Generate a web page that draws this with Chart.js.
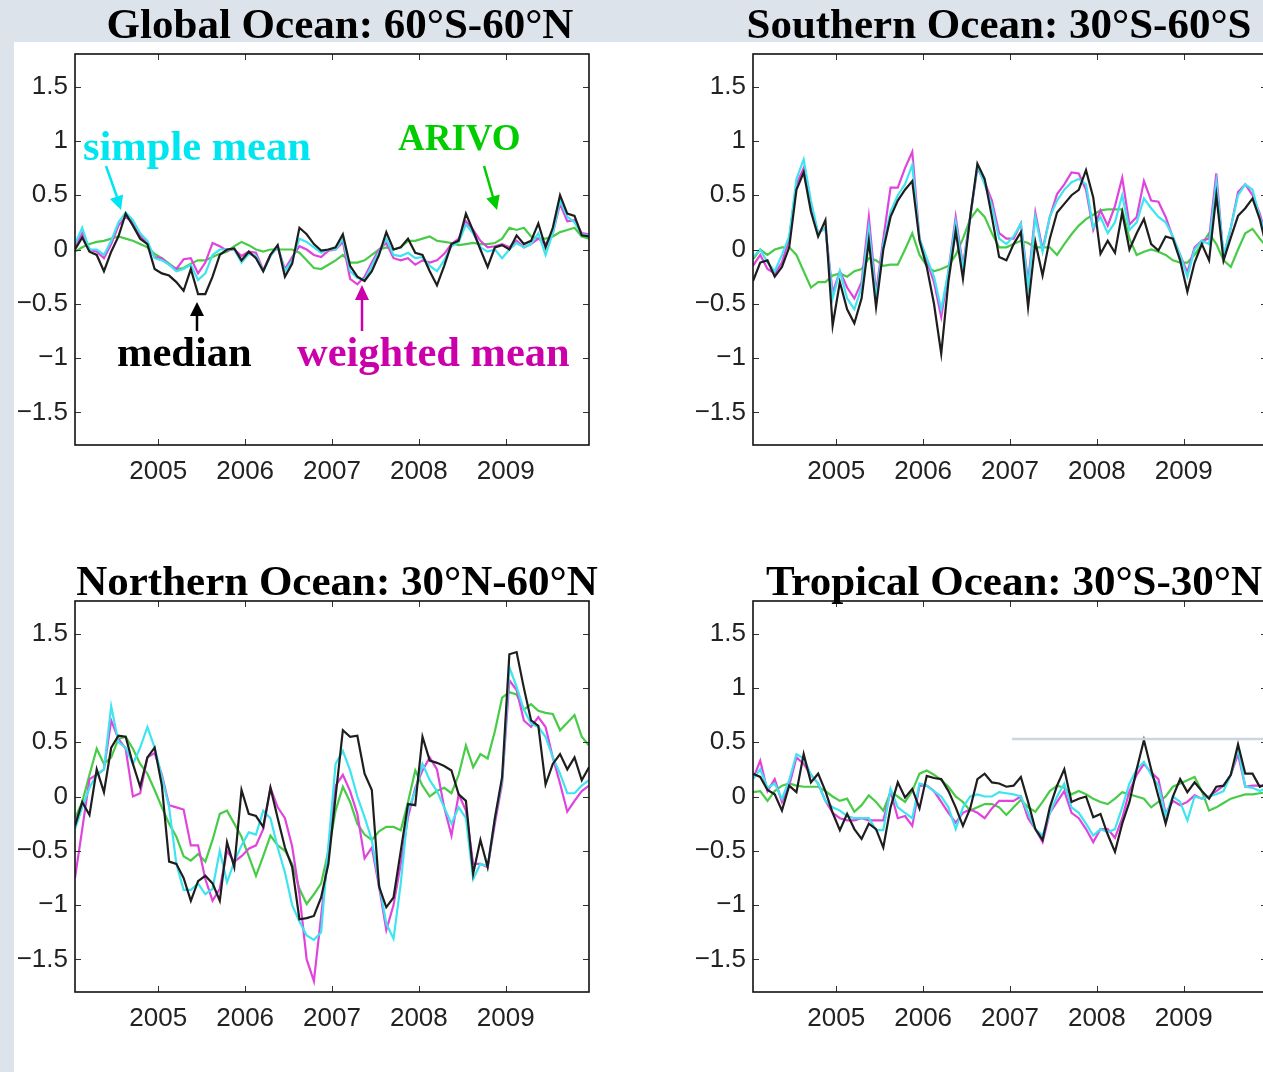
<!DOCTYPE html>
<html>
<head>
<meta charset="utf-8">
<script src="https://cdn.jsdelivr.net/npm/chart.js@4.4.1/dist/chart.umd.min.js"></script>
<style>
  html, body { margin: 0; padding: 0; width: 1263px; height: 1072px; overflow: hidden; background: #dde3eb; }
  #sheet { position: absolute; left: 14px; top: 42px; width: 1249px; height: 1030px; background: #ffffff; }
  canvas { position: absolute; }
  #overlay { position: absolute; left: 0; top: 0; }
</style>
</head>
<body>
<div id="sheet"></div>
<canvas id="globalChart" width="620" height="480" style="left:0px;top:42px"></canvas>
<canvas id="southernChart" width="620" height="480" style="left:678px;top:42px"></canvas>
<canvas id="northernChart" width="620" height="480" style="left:0px;top:589px"></canvas>
<canvas id="tropicalChart" width="620" height="480" style="left:678px;top:589px"></canvas>

<svg id="overlay" width="1263" height="1072" xmlns="http://www.w3.org/2000/svg">
  <line x1="1012" y1="739" x2="1263" y2="739" stroke="#ccd6e0" stroke-width="2.5"/>
  <g font-family="'Liberation Serif','Times New Roman',serif" font-weight="bold" fill="#000">
    <text x="340" y="38" font-size="43" text-anchor="middle">Global Ocean: 60°S-60°N</text>
    <text x="999" y="38" font-size="43" text-anchor="middle">Southern Ocean: 30°S-60°S</text>
    <text x="337" y="595" font-size="43" text-anchor="middle">Northern Ocean: 30°N-60°N</text>
    <text x="1014" y="595" font-size="43" text-anchor="middle">Tropical Ocean: 30°S-30°N</text>
    <text x="83" y="160" font-size="42.5" fill="#00e6f0">simple mean</text>
    <text x="398" y="150" font-size="37" fill="#00cc00">ARIVO</text>
    <text x="117" y="366" font-size="42.5" fill="#000000">median</text>
    <text x="297" y="366" font-size="42.5" fill="#cc00aa">weighted mean</text>
  </g>
  <!-- pointer arrows for the series labels -->
  <line x1="106" y1="166" x2="117" y2="197" stroke="#00e6f0" stroke-width="2.5"/>
  <polygon points="121,210 109.9,199.1 123.1,194.5" fill="#00e6f0"/>
  <line x1="484" y1="166" x2="493" y2="197" stroke="#00cc00" stroke-width="2.5"/>
  <polygon points="497,210 486.3,198.6 499.7,194.6" fill="#00cc00"/>
  <line x1="197" y1="331" x2="197" y2="314" stroke="#000" stroke-width="2.5"/>
  <polygon points="197,302 190,316 204,316" fill="#000"/>
  <line x1="362" y1="331" x2="362" y2="298" stroke="#cc00aa" stroke-width="2.5"/>
  <polygon points="362,285 355,300 369,300" fill="#cc00aa"/>
</svg>

<script>
// Monthly time axis, Jan 2004 .. Dec 2009 (mid-month decimal years)
const years = [2004, 2005, 2006, 2007, 2008, 2009];
const months = years.flatMap(y => Array.from({ length: 12 }, (_, m) => y + (m + 0.5) / 12));

// Axis tick labels
const yearTicks = [2005, 2006, 2007, 2008, 2009];
const valueTicks = [-1.5, -1, -0.5, 0, 0.5, 1, 1.5];

// Global Ocean: 60°S-60°N
const globalArivo = [
  -0.02, 0.02, 0.05, 0.07, 0.08, 0.10, 0.12, 0.10, 0.08, 0.05, 0.02, -0.04,
  -0.08, -0.13, -0.18, -0.17, -0.13, -0.10, -0.10, -0.07, -0.04, -0.02, 0.03, 0.07,
  0.04, 0.00, -0.02, 0.00, 0.00, 0.00, 0.00, -0.03, -0.10, -0.17, -0.18, -0.14,
  -0.10, -0.05, -0.12, -0.12, -0.10, -0.05, 0.00, 0.02, 0.00, 0.02, 0.08, 0.08,
  0.10, 0.12, 0.08, 0.07, 0.06, 0.04, 0.05, 0.06, 0.05, 0.05, 0.06, 0.10,
  0.20, 0.18, 0.20, 0.12, 0.10, 0.10, 0.12, 0.16, 0.18, 0.20, 0.12, 0.10
];
const globalSimple = [
  0.05, 0.20, 0.00, 0.00, -0.05, 0.08, 0.25, 0.34, 0.27, 0.15, 0.08, -0.08,
  -0.10, -0.14, -0.20, -0.18, -0.14, -0.28, -0.22, -0.05, 0.00, 0.00, 0.00, -0.12,
  -0.04, -0.06, -0.20, -0.06, 0.03, -0.20, -0.10, 0.10, 0.07, 0.02, -0.03, 0.00,
  0.00, 0.10, -0.20, -0.26, -0.28, -0.15, -0.02, 0.10, -0.05, -0.06, -0.03, -0.08,
  -0.07, -0.15, -0.20, -0.10, 0.03, 0.07, 0.23, 0.15, 0.02, -0.02, 0.00, -0.08,
  0.00, 0.06, 0.02, 0.05, 0.15, -0.05, 0.15, 0.45, 0.30, 0.25, 0.14, 0.13
];
const globalWeighted = [
  0.02, 0.15, 0.00, -0.02, -0.08, 0.05, 0.22, 0.30, 0.25, 0.13, 0.05, -0.07,
  -0.08, -0.14, -0.18, -0.09, -0.08, -0.22, -0.12, 0.06, 0.03, -0.01, 0.00, -0.06,
  -0.02, -0.03, -0.19, -0.05, 0.02, -0.18, -0.07, 0.03, 0.00, -0.05, -0.07, -0.01,
  0.00, 0.07, -0.27, -0.32, -0.25, -0.12, 0.00, 0.06, -0.08, -0.10, -0.08, -0.14,
  -0.10, -0.12, -0.10, -0.04, 0.05, 0.10, 0.26, 0.18, 0.08, 0.02, 0.03, 0.05,
  0.02, 0.08, 0.02, 0.05, 0.10, 0.05, 0.15, 0.42, 0.26, 0.27, 0.15, 0.14
];
const globalMedian = [
  0.00, 0.11, -0.02, -0.05, -0.20, -0.02, 0.12, 0.33, 0.22, 0.10, 0.05, -0.18,
  -0.22, -0.24, -0.30, -0.38, -0.18, -0.41, -0.41, -0.25, -0.05, 0.00, 0.01, -0.10,
  -0.02, -0.08, -0.20, -0.05, 0.04, -0.25, -0.13, 0.20, 0.14, 0.05, -0.01, 0.00,
  0.02, 0.14, -0.15, -0.25, -0.29, -0.20, -0.05, 0.16, 0.00, 0.02, 0.10, -0.03,
  -0.05, -0.20, -0.33, -0.15, 0.05, 0.08, 0.33, 0.17, 0.00, -0.16, 0.02, 0.04,
  0.00, 0.13, 0.05, 0.08, 0.24, 0.02, 0.20, 0.50, 0.33, 0.31, 0.13, 0.12
];

// Southern Ocean: 30°S-60°S
const southernArivo = [
  -0.09, 0.00, -0.05, 0.00, 0.02, 0.02, -0.05, -0.20, -0.35, -0.30, -0.30, -0.24,
  -0.22, -0.25, -0.20, -0.18, -0.08, -0.10, -0.15, -0.14, -0.14, 0.00, 0.15, -0.05,
  -0.15, -0.20, -0.18, -0.15, -0.05, 0.10, 0.28, 0.37, 0.30, 0.15, 0.02, 0.02,
  0.05, 0.08, 0.06, 0.02, 0.02, 0.02, -0.05, 0.05, 0.14, 0.22, 0.28, 0.32,
  0.36, 0.37, 0.37, 0.37, 0.10, -0.05, -0.02, 0.00, -0.02, -0.05, -0.10, -0.12,
  -0.12, -0.05, 0.05, 0.15, 0.05, -0.10, -0.16, 0.00, 0.15, 0.19, 0.10, 0.02
];
const southernSimple = [
  -0.07, 0.00, -0.12, -0.20, -0.05, 0.12, 0.65, 0.83, 0.45, 0.15, 0.20, -0.45,
  -0.20, -0.45, -0.55, -0.35, 0.20, -0.45, 0.05, 0.35, 0.50, 0.60, 0.78, 0.10,
  -0.08, -0.25, -0.55, -0.20, 0.25, -0.18, 0.30, 0.77, 0.60, 0.40, 0.10, 0.05,
  0.12, 0.24, -0.35, 0.30, -0.02, 0.30, 0.45, 0.55, 0.62, 0.65, 0.60, 0.20,
  0.30, 0.15, 0.25, 0.50, 0.18, 0.25, 0.47, 0.38, 0.30, 0.25, 0.12, -0.05,
  -0.25, 0.00, 0.08, 0.05, 0.62, -0.05, 0.20, 0.50, 0.60, 0.55, 0.30, 0.10
];
const southernWeighted = [
  -0.15, -0.05, -0.18, -0.22, -0.12, 0.10, 0.60, 0.75, 0.40, 0.15, 0.20, -0.40,
  -0.20, -0.35, -0.45, -0.30, 0.30, -0.40, 0.10, 0.57, 0.57, 0.75, 0.90, 0.10,
  -0.10, -0.30, -0.62, -0.20, 0.30, -0.15, 0.30, 0.75, 0.62, 0.45, 0.15, 0.10,
  0.10, 0.24, -0.30, 0.34, 0.00, 0.30, 0.51, 0.60, 0.71, 0.70, 0.55, 0.18,
  0.36, 0.22, 0.40, 0.66, 0.23, 0.30, 0.63, 0.45, 0.44, 0.30, 0.11, -0.05,
  -0.21, 0.02, 0.08, 0.10, 0.70, -0.08, 0.20, 0.53, 0.60, 0.50, 0.33, 0.10
];
const southernMedian = [
  -0.29, -0.12, -0.10, -0.25, -0.16, 0.02, 0.55, 0.71, 0.35, 0.12, 0.27, -0.70,
  -0.30, -0.55, -0.68, -0.45, 0.08, -0.53, 0.00, 0.30, 0.45, 0.55, 0.63, 0.08,
  -0.16, -0.50, -0.96, -0.29, 0.17, -0.27, 0.30, 0.79, 0.65, 0.30, -0.07, -0.10,
  0.05, 0.16, -0.53, 0.07, -0.24, 0.10, 0.34, 0.42, 0.50, 0.55, 0.73, 0.48,
  -0.04, 0.08, -0.03, 0.34, 0.00, 0.15, 0.28, 0.05, -0.01, 0.12, 0.10, -0.10,
  -0.39, -0.12, 0.05, -0.10, 0.50, -0.10, 0.11, 0.31, 0.38, 0.47, 0.28, 0.00
];

// Northern Ocean: 30°N-60°N
const northernArivo = [
  -0.20, -0.05, 0.20, 0.44, 0.30, 0.36, 0.53, 0.55, 0.44, 0.30, 0.21, 0.06,
  -0.10, -0.25, -0.37, -0.55, -0.59, -0.53, -0.60, -0.40, -0.16, -0.13, -0.25, -0.37,
  -0.55, -0.73, -0.55, -0.36, -0.45, -0.50, -0.62, -0.85, -0.99, -0.90, -0.80, -0.50,
  -0.13, 0.09, -0.05, -0.25, -0.35, -0.40, -0.32, -0.28, -0.28, -0.31, -0.05, 0.24,
  0.10, 0.00, 0.05, 0.08, 0.03, 0.20, 0.47, 0.27, 0.39, 0.35, 0.60, 0.91,
  0.96, 0.94, 0.80, 0.85, 0.79, 0.77, 0.76, 0.61, 0.68, 0.75, 0.55, 0.47
];
const northernSimple = [
  -0.30, -0.10, 0.08, 0.20, 0.25, 0.83, 0.50, 0.45, 0.30, 0.45, 0.64, 0.45,
  0.18, -0.10, -0.62, -0.86, -0.86, -0.80, -0.90, -0.85, -0.50, -0.79, -0.60, -0.45,
  -0.33, -0.35, -0.13, -0.20, -0.47, -0.70, -1.00, -1.15, -1.28, -1.32, -1.25, -0.45,
  0.30, 0.42, 0.24, 0.00, -0.19, -0.40, -0.80, -1.17, -1.31, -0.80, -0.13, 0.05,
  0.30, 0.15, 0.05, -0.10, -0.25, -0.10, -0.20, -0.76, -0.62, -0.64, -0.20, 0.15,
  1.19, 1.01, 0.80, 0.67, 0.64, 0.55, 0.36, 0.21, 0.03, 0.03, 0.10, 0.15
];
const northernWeighted = [
  -0.75, -0.30, 0.16, 0.20, 0.25, 0.70, 0.53, 0.44, 0.00, 0.03, 0.36, 0.40,
  0.20, -0.08, -0.10, -0.12, -0.45, -0.45, -0.76, -0.96, -0.85, -0.50, -0.60, -0.55,
  -0.48, -0.45, -0.30, 0.08, -0.10, -0.20, -0.46, -0.90, -1.50, -1.70, -1.10, -0.50,
  0.10, 0.20, 0.05, -0.16, -0.57, -0.47, -0.83, -1.23, -1.00, -0.62, -0.19, 0.08,
  0.24, 0.36, 0.25, -0.10, -0.36, 0.02, -0.13, -0.62, -0.62, -0.65, -0.25, 0.12,
  1.07, 0.98, 0.70, 0.64, 0.73, 0.64, 0.36, 0.12, -0.14, -0.04, 0.05, 0.10
];
const northernMedian = [
  -0.27, -0.05, -0.17, 0.25, 0.04, 0.45, 0.56, 0.55, 0.30, 0.09, 0.36, 0.45,
  0.10, -0.60, -0.62, -0.75, -0.96, -0.78, -0.73, -0.80, -0.96, -0.42, -0.65, 0.06,
  -0.16, -0.18, -0.28, 0.08, -0.20, -0.47, -0.65, -1.13, -1.12, -1.10, -0.93, -0.62,
  0.00, 0.61, 0.55, 0.56, 0.21, 0.06, -0.83, -1.02, -0.93, -0.50, -0.07, -0.08,
  0.55, 0.33, 0.31, 0.28, 0.24, 0.02, -0.04, -0.71, -0.40, -0.65, -0.20, 0.18,
  1.31, 1.33, 1.00, 0.70, 0.65, 0.11, 0.30, 0.39, 0.25, 0.36, 0.15, 0.27
];

// Tropical Ocean: 30°S-30°N
const tropicalArivo = [
  0.04, 0.05, -0.04, 0.05, 0.10, 0.12, 0.10, 0.09, 0.09, 0.09, 0.05, 0.00,
  -0.04, -0.02, -0.14, -0.08, 0.01, -0.05, -0.13, 0.04, 0.00, -0.05, 0.05, 0.21,
  0.24, 0.20, 0.15, 0.09, 0.00, -0.05, -0.13, -0.10, -0.07, -0.07, -0.10, -0.17,
  -0.10, -0.03, -0.10, -0.14, -0.05, 0.05, 0.10, 0.08, 0.02, 0.05, 0.02, -0.02,
  -0.05, -0.07, -0.02, 0.04, 0.02, 0.00, -0.02, -0.10, -0.05, 0.00, 0.09, 0.12,
  0.15, 0.18, 0.05, -0.13, -0.10, -0.06, -0.02, 0.00, 0.02, 0.02, 0.03, 0.04
];
const tropicalSimple = [
  0.16, 0.25, 0.08, 0.12, -0.02, 0.15, 0.39, 0.35, 0.20, 0.12, -0.04, -0.10,
  -0.13, -0.18, -0.20, -0.20, -0.20, -0.31, -0.31, 0.07, -0.10, -0.15, -0.20, 0.12,
  0.10, 0.05, 0.00, -0.10, -0.30, -0.10, 0.00, 0.02, 0.00, 0.00, 0.04, 0.03,
  0.02, 0.00, -0.15, -0.30, -0.36, -0.15, 0.00, 0.12, -0.10, -0.15, -0.25, -0.36,
  -0.30, -0.33, -0.30, -0.10, 0.12, 0.25, 0.32, 0.20, 0.10, -0.18, 0.00, -0.05,
  -0.22, 0.00, -0.02, 0.00, 0.02, 0.05, 0.20, 0.44, 0.09, 0.08, 0.05, 0.08
];
const tropicalWeighted = [
  0.16, 0.33, 0.05, 0.16, -0.05, 0.10, 0.36, 0.30, 0.20, 0.12, -0.04, -0.15,
  -0.20, -0.22, -0.22, -0.20, -0.22, -0.22, -0.22, 0.05, -0.20, -0.18, -0.27, 0.10,
  0.10, 0.05, -0.05, -0.15, -0.24, -0.15, -0.12, -0.15, -0.20, -0.11, -0.04, -0.04,
  -0.04, 0.00, -0.20, -0.30, -0.42, -0.15, -0.05, 0.05, -0.15, -0.20, -0.30, -0.42,
  -0.30, -0.30, -0.38, -0.20, 0.05, 0.20, 0.30, 0.22, 0.16, -0.16, -0.04, -0.08,
  -0.05, 0.01, -0.02, 0.00, 0.05, 0.10, 0.20, 0.39, 0.09, 0.10, 0.10, 0.09
];
const tropicalMedian = [
  0.21, 0.18, 0.06, 0.02, -0.13, 0.10, 0.04, 0.39, 0.13, 0.21, 0.05, -0.15,
  -0.31, -0.16, -0.30, -0.39, -0.25, -0.30, -0.47, -0.10, 0.13, -0.01, 0.07, -0.11,
  0.19, 0.17, 0.16, 0.05, -0.10, -0.27, -0.11, 0.16, 0.21, 0.13, 0.12, 0.09,
  0.10, 0.18, -0.05, -0.30, -0.40, -0.10, 0.10, 0.25, -0.05, -0.02, 0.00, -0.19,
  -0.16, -0.35, -0.51, -0.25, -0.05, 0.25, 0.52, 0.25, 0.00, -0.25, 0.00, 0.16,
  0.04, 0.13, 0.05, -0.02, 0.09, 0.10, 0.20, 0.48, 0.21, 0.21, 0.09, 0.12
];

// Line colours for the four estimates
const lineColors = {
  median: '#1e1e1e',
  simple: '#3ee4f0',
  weighted: '#e044dc',
  arivo: '#48cc48'
};

const toPoints = values => values.map((v, i) => ({ x: months[i], y: v }));

const fmtValue = v => (v < 0 ? '\u2212' + Math.abs(v) : String(v));

// Box frame with inward tick marks on all four sides
const framePlugin = {
  id: 'boxFrame',
  afterDraw(chart) {
    const { ctx, chartArea: a, scales: { x, y } } = chart;
    ctx.save();
    ctx.strokeStyle = '#333';
    ctx.lineWidth = 1;
    ctx.beginPath();
    for (const v of yearTicks) {
      const px = Math.round(x.getPixelForValue(v)) + 0.5;
      ctx.moveTo(px, a.bottom); ctx.lineTo(px, a.bottom - 6);
      ctx.moveTo(px, a.top); ctx.lineTo(px, a.top + 6);
    }
    for (const v of valueTicks) {
      const py = Math.round(y.getPixelForValue(v)) + 0.5;
      ctx.moveTo(a.left, py); ctx.lineTo(a.left + 6, py);
      ctx.moveTo(a.right, py); ctx.lineTo(a.right - 6, py);
    }
    ctx.stroke();
    ctx.strokeStyle = '#111';
    ctx.lineWidth = 1.6;
    ctx.strokeRect(a.left, a.top, a.right - a.left, a.bottom - a.top);
    ctx.restore();
  }
};

function makeChart(canvasId, series) {
  const tickFont = { family: "'Liberation Sans', Arial, sans-serif", size: 26 };
  return new Chart(document.getElementById(canvasId), {
    type: 'line',
    data: {
      datasets: [
        { label: 'median', data: toPoints(series.median), borderColor: lineColors.median },
        { label: 'simple mean', data: toPoints(series.simple), borderColor: lineColors.simple },
        { label: 'weighted mean', data: toPoints(series.weighted), borderColor: lineColors.weighted },
        { label: 'ARIVO', data: toPoints(series.arivo), borderColor: lineColors.arivo }
      ]
    },
    options: {
      responsive: false,
      animation: false,
      devicePixelRatio: 1,
      layout: { padding: { left: 0, top: 12, right: 31, bottom: 0 } },
      plugins: { legend: { display: false }, tooltip: { enabled: false } },
      elements: {
        point: { radius: 0 },
        line: { borderWidth: 2.2, tension: 0, fill: false }
      },
      scales: {
        x: {
          type: 'linear',
          min: months[0],
          max: months[months.length - 1],
          afterBuildTicks: s => { s.ticks = yearTicks.map(v => ({ value: v })); },
          afterFit: s => { s.height = 77; s.paddingLeft = 0; s.paddingRight = 0; },
          grid: { display: false, drawTicks: false },
          border: { display: false },
          ticks: { padding: 11, color: '#222', font: tickFont, maxRotation: 0, autoSkip: false, callback: v => String(v) }
        },
        y: {
          min: -1.8,
          max: 1.8,
          afterBuildTicks: s => { s.ticks = valueTicks.map(v => ({ value: v })); },
          afterFit: s => { s.width = 75; s.paddingTop = 0; s.paddingBottom = 0; },
          grid: { display: false, drawTicks: false },
          border: { display: false },
          ticks: { padding: 7, color: '#222', font: tickFont, autoSkip: false, callback: v => fmtValue(v) }
        }
      }
    },
    plugins: [framePlugin]
  });
}

makeChart('globalChart', { median: globalMedian, simple: globalSimple, weighted: globalWeighted, arivo: globalArivo });
makeChart('southernChart', { median: southernMedian, simple: southernSimple, weighted: southernWeighted, arivo: southernArivo });
makeChart('northernChart', { median: northernMedian, simple: northernSimple, weighted: northernWeighted, arivo: northernArivo });
makeChart('tropicalChart', { median: tropicalMedian, simple: tropicalSimple, weighted: tropicalWeighted, arivo: tropicalArivo });
</script>
</body>
</html>
